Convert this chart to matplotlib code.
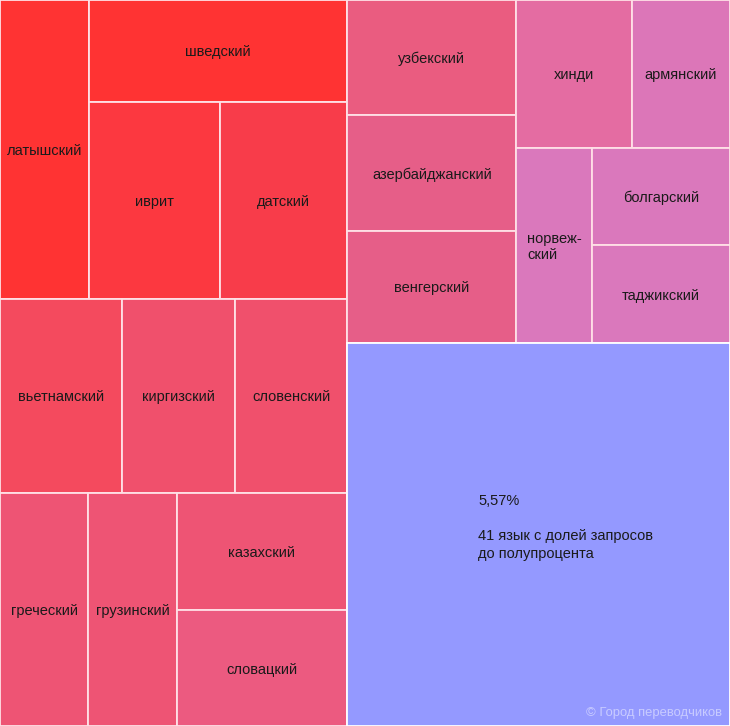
#!/usr/bin/env python3

"""
Treemap: languages with a share of translation requests between 0.5% and ~1%,
plus one box for the 41 smaller languages.
"""

import matplotlib
matplotlib.use("Agg")
import matplotlib.pyplot as plt
from matplotlib.patches import Rectangle

# share of requests, %
languages = [
    "латышский", "шведский", "иврит", "датский",
    "вьетнамский", "киргизский", "словенский",
    "греческий", "грузинский", "казахский", "словацкий",
    "узбекский", "азербайджанский", "венгерский",
    "хинди", "армянский", "норвеж-\nский", "болгарский", "таджикский",
]
shares = [
    1.01, 1.00, 0.98, 0.95,
    0.90, 0.84, 0.83,
    0.78, 0.78, 0.76, 0.75,
    0.74, 0.74, 0.72,
    0.65, 0.55, 0.56, 0.51, 0.51,
]
colors = [
    "#FF3333", "#FF3333", "#FC3840", "#F83C4A",
    "#F44A5E", "#F0506C", "#F0506C",
    "#EE5474", "#EE5474", "#EE5474", "#EC5A80",
    "#EA5C80", "#E65E88", "#E65E88",
    "#E46CA2", "#DC76B8", "#DA78BC", "#DA78BC", "#DA78BC",
]

other_share = 5.57
other_label = "5,57%\n\n41 язык с долей запросов\nдо полупроцента"
other_color = "#9499FF"

# nesting of the layout: "h" splits along x, "v" along y, ints are languages
OTHER = -1
layout = ("h", [
    ("v", [
        ("h", [0, ("v", [1, ("h", [2, 3])])]),
        ("h", [4, 5, 6]),
        ("h", [7, 8, ("v", [9, 10])]),
    ]),
    ("v", [
        ("h", [
            ("v", [11, 12, 13]),
            ("v", [("h", [14, 15]), ("h", [16, ("v", [17, 18])])]),
        ]),
        OTHER,
    ]),
])


def value(node):
    if node == OTHER:
        return other_share
    if isinstance(node, int):
        return shares[node]
    return sum(value(c) for c in node[1])


def place(node, x, y, w, h, out):
    if isinstance(node, int):
        out[node] = (x, y, w, h)
        return
    direction, children = node
    total = value(node)
    pos = 0.0
    for c in children:
        frac = value(c) / total
        if direction == "h":
            place(c, x + pos * w, y, frac * w, h, out)
        else:
            place(c, x, y + pos * h, w, frac * h, out)
        pos += frac


W, H = 730, 726
rects = {}
place(layout, 0, 0, W, H, rects)

fig = plt.figure(figsize=(7.3, 7.26), dpi=100)
ax = fig.add_axes([0, 0, 1, 1])
ax.set_xlim(0, W)
ax.set_ylim(H, 0)
ax.axis("off")

font = dict(family=["Liberation Sans", "DejaVu Sans"], fontsize=10.5, color="#1a1a1a")

for i, name in enumerate(languages):
    x, y, w, h = rects[i]
    ax.add_patch(Rectangle((x, y), w, h, facecolor=colors[i],
                           edgecolor="#FFE0E6", linewidth=1.3))
    ax.text(x + w / 2, y + h / 2 + 1.5, name, ha="center", va="center",
            multialignment="left", linespacing=1.2, **font)

x, y, w, h = rects[OTHER]
ax.add_patch(Rectangle((x, y), w, h, facecolor=other_color,
                       edgecolor="#FFFFFF", linewidth=1.3))
ax.text(x + 0.342 * w, y + 0.395 * h, other_label, ha="left", va="top",
        linespacing=1.33, **font)

ax.text(W - 8, H - 13, "© Город переводчиков", ha="right", va="center",
        family=["Liberation Sans", "DejaVu Sans"], fontsize=9.4, color="#C8CBFF")

fig.savefig("out.png", dpi=100)
